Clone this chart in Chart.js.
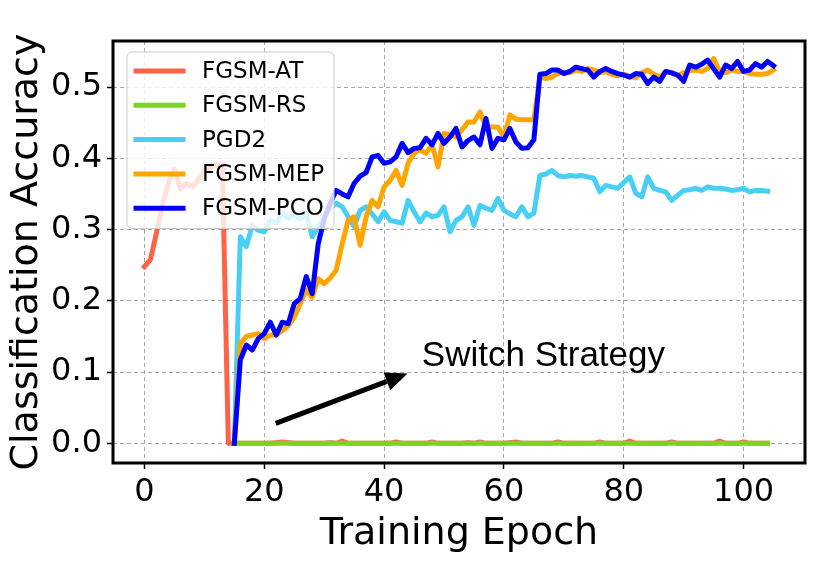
<!DOCTYPE html>
<html>
<head>
<meta charset="utf-8">
<script src="https://cdn.jsdelivr.net/npm/chart.js@4.4.1/dist/chart.umd.min.js"></script>
<style>
  html, body { margin: 0; padding: 0; background: #fff; }
  #wrap { position: relative; width: 830px; height: 564px; }
</style>
</head>
<body>
<div id="wrap">
  <canvas id="chart" role="img" aria-label="Classification accuracy per training epoch for five adversarial training methods"></canvas>
</div>
<script>
const xTicks = [0, 20, 40, 60, 80, 100];
const yTicks = [0.0, 0.1, 0.2, 0.3, 0.4, 0.5];

const seriesNames  = ['FGSM-AT', 'FGSM-RS', 'PGD2', 'FGSM-MEP', 'FGSM-PCO'];
const seriesStart  = [0, 15, 15, 15, 15];   // epoch of the first value in each list
const seriesColors = ['#ff6347', '#7ed321', '#48cff5', '#ffa500', '#0000ff'];

const fgsmAT = [
  0.248, 0.258, 0.295, 0.335, 0.365, 0.385, 0.357, 0.365, 0.36, 0.37,
  0.383, 0.386, 0.392, 0.39, 0.0,
  0, 0, 0, 0, 0, 0, 0, 0.001, 0.002, 0.001,
  0, 0, 0, 0, 0, 0, 0.001, 0, 0.003, 0,
  0, 0, 0, 0, 0, 0, 0, 0.002, 0, 0,
  0, 0, 0, 0.002, 0, 0, 0, 0, 0, 0.001,
  0, 0.002, 0, 0, 0, 0, 0.001, 0.002, 0, 0,
  0, 0, 0, 0, 0.002, 0, 0, 0, 0, 0,
  0, 0.002, 0, 0, 0, 0, 0.003, 0, 0, 0,
  0, 0, 0, 0.002, 0, 0, 0, 0, 0, 0,
  0, 0.003, 0, 0, 0, 0.002, 0, 0, 0, 0
];

const fgsmRS = [
  0, 0, 0, 0, 0, 0, 0, 0, 0, 0,
  0, 0, 0, 0, 0, 0, 0, 0, 0, 0,
  0, 0, 0, 0, 0, 0, 0, 0, 0, 0,
  0, 0, 0, 0, 0, 0, 0, 0, 0, 0,
  0, 0, 0, 0, 0, 0, 0, 0, 0, 0,
  0, 0, 0, 0, 0, 0, 0, 0, 0, 0,
  0, 0, 0, 0, 0, 0, 0, 0, 0, 0,
  0, 0, 0, 0, 0, 0, 0, 0, 0, 0,
  0, 0, 0, 0, 0, 0, 0, 0, 0, 0
];

const pgd2 = [
  0.0, 0.29, 0.276, 0.306, 0.299, 0.297, 0.313, 0.309, 0.323, 0.316,
  0.32, 0.315, 0.322, 0.29, 0.305, 0.318, 0.33, 0.337, 0.332, 0.318,
  0.304, 0.327, 0.332, 0.322, 0.311, 0.325, 0.313, 0.311, 0.309, 0.341,
  0.325, 0.311, 0.323, 0.318, 0.32, 0.332, 0.297, 0.313, 0.318, 0.332,
  0.306, 0.334, 0.33, 0.327, 0.344, 0.327, 0.322, 0.318, 0.332, 0.318,
  0.323, 0.376, 0.378, 0.383, 0.376, 0.374, 0.376, 0.375, 0.376, 0.374,
  0.372, 0.353, 0.362, 0.36, 0.358, 0.366, 0.374, 0.351, 0.346, 0.374,
  0.358, 0.355, 0.353, 0.341, 0.348, 0.355, 0.356, 0.358, 0.355, 0.36,
  0.358, 0.358, 0.357, 0.355, 0.356, 0.358, 0.353, 0.355, 0.355, 0.354
];

const fgsmMEP = [
  0.0, 0.14, 0.15, 0.152, 0.154, 0.147, 0.152, 0.152, 0.158, 0.165,
  0.177, 0.196, 0.215, 0.205, 0.231, 0.224, 0.232, 0.243, 0.28, 0.313,
  0.318, 0.278, 0.318, 0.341, 0.332, 0.36, 0.369, 0.383, 0.362, 0.393,
  0.407, 0.412, 0.407, 0.419, 0.388, 0.435, 0.433, 0.43, 0.44, 0.451,
  0.451, 0.465, 0.444, 0.444, 0.444, 0.43, 0.461, 0.455, 0.454, 0.454,
  0.454, 0.514, 0.512, 0.514, 0.519, 0.521, 0.52, 0.524, 0.522, 0.526,
  0.524, 0.52, 0.522, 0.518, 0.516, 0.518, 0.515, 0.513, 0.52, 0.524,
  0.518, 0.514, 0.522, 0.52, 0.516, 0.52, 0.523, 0.524, 0.522, 0.526,
  0.54, 0.522, 0.52, 0.524, 0.522, 0.522, 0.519, 0.518, 0.518, 0.519, 0.524
];

const fgsmPCO = [
  0.0, 0.117, 0.138, 0.131, 0.147, 0.154, 0.17, 0.152, 0.17, 0.168,
  0.196, 0.203, 0.234, 0.21, 0.28, 0.315, 0.337, 0.355, 0.35, 0.346,
  0.365, 0.375, 0.38, 0.402, 0.404, 0.393, 0.395, 0.402, 0.421, 0.408,
  0.414, 0.415, 0.428, 0.419, 0.435, 0.421, 0.43, 0.442, 0.416, 0.425,
  0.43, 0.419, 0.456, 0.414, 0.428, 0.426, 0.442, 0.423, 0.414, 0.415,
  0.426, 0.518, 0.519, 0.524, 0.524, 0.519, 0.522, 0.528, 0.526, 0.524,
  0.514, 0.522, 0.526, 0.522, 0.519, 0.517, 0.514, 0.519, 0.518, 0.505,
  0.514, 0.508, 0.522, 0.52, 0.517, 0.508, 0.531, 0.528, 0.532, 0.538,
  0.526, 0.514, 0.531, 0.526, 0.536, 0.522, 0.524, 0.533, 0.528, 0.536, 0.53
];

const seriesValues = [fgsmAT, fgsmRS, pgd2, fgsmMEP, fgsmPCO];

// annotation, in data units
const noteText = 'Switch Strategy';
const noteAt = { x: 46.3, y: 0.108 };
const arrowFrom = { x: 21.9, y: 0.028 };
const arrowTo = { x: 43.9, y: 0.098 };

const FONT = "'DejaVu Sans', sans-serif";

const datasets = seriesNames.map((name, k) => ({
  label: name,
  data: seriesValues[k].map((v, i) => ({ x: seriesStart[k] + i, y: v })),
  borderColor: seriesColors[k],
  backgroundColor: seriesColors[k],
  borderWidth: 5,
  pointRadius: 0,
  tension: 0,
  borderJoinStyle: 'round',
  borderCapStyle: 'square',
  order: seriesNames.length - 1 - k   // later series on top, like matplotlib
}));

const decor = {
  id: 'decor',
  afterDatasetsDraw(chart) {
    const { ctx, chartArea, scales } = chart;
    const x = scales.x, y = scales.y;

    // legend box inside the plot
    ctx.save();
    ctx.font = '23px ' + FONT;
    const left = chartArea.left + 14, top = chartArea.top + 11;
    const rowH = 34.3, handleX = left + 6.5, handleW = 52, textX = left + 75;
    let maxW = 0;
    chart.data.datasets.forEach(d => { maxW = Math.max(maxW, ctx.measureText(d.label).width); });
    const w = textX - left + maxW + 10;
    const h = rowH * chart.data.datasets.length + 5;
    ctx.beginPath();
    ctx.roundRect(left, top, w, h, 5);
    ctx.fillStyle = 'rgba(255,255,255,0.8)';
    ctx.fill();
    ctx.strokeStyle = '#cccccc';
    ctx.lineWidth = 1;
    ctx.stroke();
    chart.data.datasets.forEach((d, i) => {
      const cy = top + 19 + i * rowH;
      ctx.beginPath();
      ctx.moveTo(handleX, cy);
      ctx.lineTo(handleX + handleW, cy);
      ctx.strokeStyle = d.borderColor;
      ctx.lineWidth = 5;
      ctx.stroke();
      ctx.fillStyle = '#000';
      ctx.textBaseline = 'middle';
      ctx.textAlign = 'left';
      ctx.fillText(d.label, textX, cy + 1);
    });
    ctx.restore();

    // arrow + note
    ctx.save();
    const x0 = x.getPixelForValue(arrowFrom.x), y0 = y.getPixelForValue(arrowFrom.y);
    const x1 = x.getPixelForValue(arrowTo.x), y1 = y.getPixelForValue(arrowTo.y);
    const ang = Math.atan2(y1 - y0, x1 - x0);
    const headL = 22, headW = 19;
    const bx = x1 - headL * Math.cos(ang), by = y1 - headL * Math.sin(ang);
    ctx.strokeStyle = '#000';
    ctx.fillStyle = '#000';
    ctx.lineWidth = 5;
    ctx.beginPath();
    ctx.moveTo(x0, y0);
    ctx.lineTo(bx, by);
    ctx.stroke();
    ctx.beginPath();
    ctx.moveTo(x1, y1);
    ctx.lineTo(bx + headW / 2 * Math.sin(ang), by - headW / 2 * Math.cos(ang));
    ctx.lineTo(bx - headW / 2 * Math.sin(ang), by + headW / 2 * Math.cos(ang));
    ctx.closePath();
    ctx.fill();
    ctx.font = "35px 'Liberation Sans', Arial, sans-serif";
    ctx.textBaseline = 'alphabetic';
    ctx.textAlign = 'left';
    ctx.fillText(noteText, x.getPixelForValue(noteAt.x), y.getPixelForValue(noteAt.y));
    ctx.restore();
  },
  afterDraw(chart) {
    const { ctx, chartArea } = chart;
    ctx.save();
    ctx.strokeStyle = '#000';
    ctx.lineWidth = 3;
    ctx.strokeRect(chartArea.left, chartArea.top, chartArea.right - chartArea.left, chartArea.bottom - chartArea.top);
    ctx.restore();
  }
};

const gridOpts = {
  color: '#a6a6a6',
  lineWidth: 1,
  drawTicks: true,
  tickLength: 6,
  tickColor: '#000',
  tickWidth: 1.5
};

new Chart(document.getElementById('chart'), {
  type: 'line',
  data: { datasets },
  plugins: [decor],
  options: {
    responsive: true,
    maintainAspectRatio: false,
    animation: false,
    devicePixelRatio: 1,
    layout: { padding: { top: 41, right: 25, left: 0, bottom: 0 } },
    plugins: { legend: { display: false }, tooltip: { enabled: false } },
    scales: {
      x: {
        type: 'linear',
        min: -5.25,
        max: 110.25,
        afterBuildTicks: s => { s.ticks = xTicks.map(v => ({ value: v })); },
        afterFit: s => { s.height = 101; },
        ticks: { color: '#000', font: { family: FONT, size: 32 }, padding: 4, maxRotation: 0, autoSkip: false },
        grid: gridOpts,
        border: { display: false, dash: [4, 3] },
        title: { display: true, text: 'Training Epoch', color: '#000', font: { family: FONT, size: 38, lineHeight: 1 }, padding: { bottom: 11, top: 0 } }
      },
      y: {
        type: 'linear',
        min: -0.0276,
        max: 0.5647,
        afterBuildTicks: s => { s.ticks = yTicks.map(v => ({ value: v })); },
        afterFit: s => { s.width = 113; },
        ticks: { color: '#000', font: { family: FONT, size: 32 }, padding: 5, callback: v => v.toFixed(1) },
        grid: gridOpts,
        border: { display: false, dash: [4, 3] },
        title: { display: true, text: 'Classification Accuracy', color: '#000', font: { family: FONT, size: 38, lineHeight: 1 }, padding: { top: 8, bottom: 0 } }
      }
    }
  }
});
</script>
</body>
</html>
